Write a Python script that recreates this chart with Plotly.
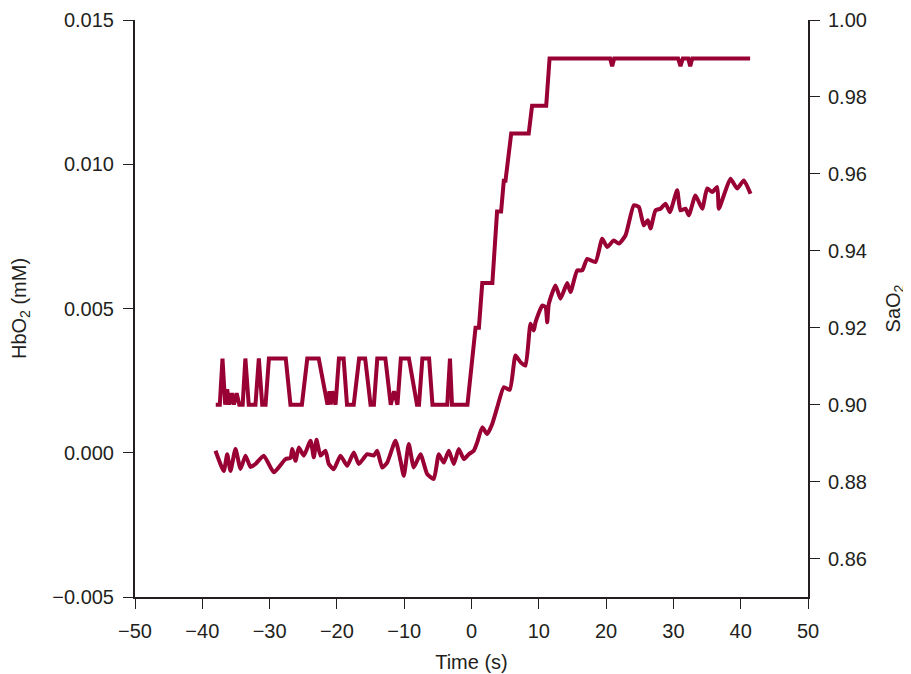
import plotly.graph_objects as go

# HbO2 (mM), left axis
hbo2_t = [-38.04, -36.81, -36.30, -35.81, -35.07, -34.32, -33.58, -32.84, -32.09, -30.86,
          -29.38, -27.64, -26.89, -26.64, -26.15, -25.66, -24.92, -23.92, -23.43, -23.03,
          -22.44, -21.70, -21.20, -20.46, -19.47, -18.47, -17.49, -16.75, -15.50, -14.52,
          -14.01, -13.27, -12.53, -11.29, -10.55, -10.06, -9.32, -8.57, -7.58, -6.58,
          -5.60, -4.86, -4.12, -3.37, -2.63, -1.89, -1.14, -0.40, 0.34, 0.85,
          1.59, 2.33, 3.08, 3.82, 4.80, 5.69, 6.54, 7.28, 8.02, 8.77,
          9.26, 9.51, 10.51, 11.00, 11.25, 11.49, 12.48, 13.22, 14.22, 14.71,
          15.71, 16.45, 17.19, 18.42, 19.42, 20.16, 21.14, 21.89, 22.88, 24.12,
          24.86, 25.60, 26.20, 26.60, 27.34, 28.08, 28.83, 29.47, 30.56, 31.05,
          31.80, 32.29, 33.28, 34.28, 35.02, 35.77, 36.51, 36.75, 37.49, 38.48,
          39.48, 40.46, 41.46]
hbo2_v = [0.00007, -0.00063, -0.00005, -0.00063, 0.00013, -0.00056, -0.00010, -0.00049, -0.00039, -0.00010,
          -0.00068, -0.00022, -0.00018, 0.00013, -0.00028, 0.00018, -0.00010, 0.00042, -0.00016, 0.00045,
          -0.00010, 0.00007, -0.00039, -0.00057, -0.00010, -0.00045, 0.00001, -0.00039, -0.00005, -0.00010,
          0.00007, -0.00051, -0.00034, 0.00042, -0.00028, -0.00080, 0.00030, -0.00051, -0.00005, -0.00074,
          -0.00091, -0.00005, -0.00034, 0.00007, -0.00039, 0.00013, -0.00022, -0.00005, 0.00007, 0.00036,
          0.00088, 0.00065, 0.00100, 0.00157, 0.00227, 0.00218, 0.00337, 0.00314, 0.00302, 0.00447,
          0.00424, 0.00452, 0.00510, 0.00505, 0.00452, 0.00516, 0.00580, 0.00534, 0.00588, 0.00557,
          0.00632, 0.00632, 0.00672, 0.00661, 0.00742, 0.00713, 0.00736, 0.00725, 0.00753, 0.00858,
          0.00852, 0.00788, 0.00806, 0.00777, 0.00840, 0.00846, 0.00863, 0.00834, 0.00910, 0.00840,
          0.00846, 0.00823, 0.00892, 0.00846, 0.00916, 0.00904, 0.00921, 0.00846, 0.00892, 0.00950,
          0.00916, 0.00944, 0.00898]

# SaO2, right axis
sao2_t = [-38.0, -37.4, -37.0, -36.6, -36.3, -36.0, -35.6, -35.3, -34.9, -34.5,
          -34.0, -33.6, -33.1, -32.1, -31.6, -31.1, -30.6, -30.1, -27.6, -26.9,
          -25.2, -24.4, -22.7, -21.4, -21.1, -20.9, -20.7, -20.2, -19.7, -19.0,
          -18.5, -17.5, -16.7, -15.8, -15.0, -14.5, -14.0, -12.8, -12.0, -11.5,
          -11.0, -10.5, -9.3, -8.1, -7.8, -7.3, -6.3, -5.8, -3.6, -3.2,
          -2.9, -0.6, 0.6, 1.1, 1.6, 3.1, 3.8, 4.4, 4.8, 5.05,
          5.9, 8.5, 9.0, 11.1, 11.6, 20.6, 20.9, 21.2, 30.7, 31.05,
          31.4, 32.2, 32.5, 32.8, 41.4]
sao2_v = [0.900, 0.900, 0.912, 0.900, 0.904, 0.900, 0.903, 0.900, 0.903, 0.900,
          0.900, 0.912, 0.900, 0.900, 0.912, 0.900, 0.900, 0.912, 0.912, 0.900,
          0.900, 0.912, 0.912, 0.900, 0.9035, 0.900, 0.9035, 0.900, 0.912, 0.912,
          0.900, 0.900, 0.912, 0.912, 0.900, 0.900, 0.912, 0.912, 0.900, 0.9035,
          0.900, 0.912, 0.912, 0.900, 0.900, 0.912, 0.912, 0.900, 0.900, 0.912,
          0.900, 0.900, 0.920, 0.920, 0.9316, 0.9316, 0.9502, 0.9502, 0.9582, 0.9582,
          0.9705, 0.9705, 0.9777, 0.9777, 0.990, 0.990, 0.988, 0.990, 0.990, 0.988,
          0.990, 0.990, 0.988, 0.990, 0.990]

x_ticks = [-50, -40, -30, -20, -10, 0, 10, 20, 30, 40, 50]
left_ticks = [-0.005, 0.000, 0.005, 0.010, 0.015]
right_ticks = [0.86, 0.88, 0.90, 0.92, 0.94, 0.96, 0.98, 1.00]

COLOR = "#990033"
FONT = "Liberation Sans, Arial, sans-serif"
TXT = "#231f20"
FS = 20

fig = go.Figure()
fig.add_trace(go.Scatter(x=hbo2_t, y=hbo2_v, mode="lines", yaxis="y",
                         line=dict(color=COLOR, width=4, shape="spline", smoothing=0.5),
                         showlegend=False, hoverinfo="skip"))
fig.add_trace(go.Scatter(x=sao2_t, y=sao2_v, mode="lines", yaxis="y2",
                         line=dict(color=COLOR, width=4),
                         showlegend=False, hoverinfo="skip"))

axis_common = dict(showline=True, linecolor="#231f20", linewidth=2, ticks="outside",
                   ticklen=10, tickwidth=1.3, tickcolor="#231f20", showgrid=False,
                   zeroline=False, automargin=False,
                   tickfont=dict(family=FONT, size=FS, color=TXT))

fig.update_layout(
    width=903, height=666,
    margin=dict(l=127, r=103, t=12, b=77),
    paper_bgcolor="white", plot_bgcolor="white",
    font=dict(family=FONT, size=FS, color=TXT),
    xaxis=dict(range=[-50, 50], tickvals=x_ticks, ticktext=[str(v).replace("-", "\u2212") for v in x_ticks],
               ticklabelstandoff=5,
               title=dict(text="Time (s)", standoff=14, font=dict(family=FONT, size=FS, color=TXT)),
               **axis_common),
    yaxis=dict(range=[-0.005, 0.015], tickvals=left_ticks, tickformat=".3f",
               ticklabelstandoff=5,
               title=dict(text="HbO<sub>2</sub> (mM)", standoff=20, font=dict(family=FONT, size=FS, color=TXT)),
               **axis_common),
    yaxis2=dict(range=[0.85, 1.00], tickvals=right_ticks, tickformat=".2f", overlaying="y", side="right",
                ticklabelstandoff=4,
                title=dict(text="SaO<sub>2</sub>", standoff=20, font=dict(family=FONT, size=FS, color=TXT)),
                **axis_common),
)

fig.write_html("out.html")
